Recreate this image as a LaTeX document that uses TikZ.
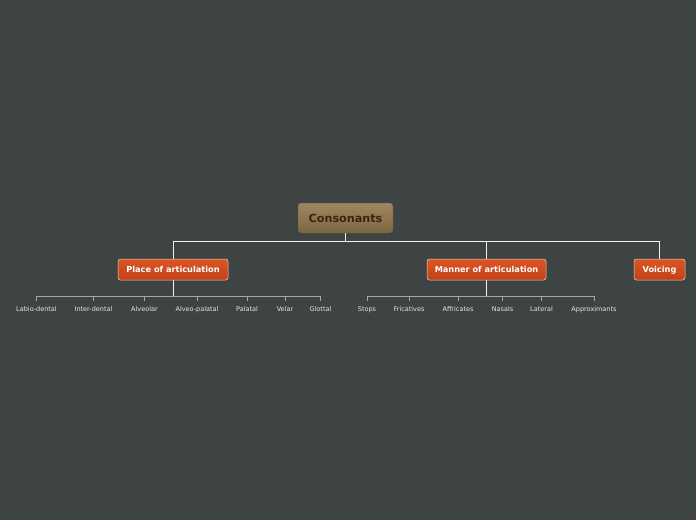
\documentclass[tikz,border=0pt]{standalone}
\usepackage{fontspec}
\setmainfont{DejaVu Sans}
\begin{document}
\begin{tikzpicture}[x=1pt,y=-1pt,
  rootbox/.style={rounded corners=3pt, top color=rootTop, bottom color=rootBot, draw=rootBot!80!black, line width=0.3pt,
    minimum width=95pt, minimum height=30pt, inner sep=0pt, font=\fontsize{11.2}{13}\selectfont\bfseries, text=rootText},
  midbox/.style={rounded corners=2.5pt, top color=midTop, bottom color=midBot, draw=midLine, line width=0.5pt,
    minimum height=21pt, inner sep=0pt, text height=7.6pt, text depth=1pt, font=\fontsize{8.2}{10}\selectfont\bfseries, text=white},
  leaf/.style={inner sep=0pt, text height=5pt, text depth=1.5pt, font=\fontsize{6.5}{7}\selectfont, text=leafText, anchor=north},
  mainline/.style={draw=lineW, line width=0.8pt},
  leafline/.style={draw=lineG, line width=0.8pt}
]
\definecolor{bg}{HTML}{3E4444}
\definecolor{rootTop}{HTML}{A08660}
\definecolor{rootBot}{HTML}{7C6642}
\definecolor{rootText}{HTML}{3A2410}
\definecolor{midTop}{HTML}{DC5524}
\definecolor{midBot}{HTML}{C2411A}
\definecolor{midLine}{HTML}{E8CFC0}
\definecolor{leafText}{HTML}{E6E6E6}
\definecolor{lineW}{HTML}{F2F2F2}
\definecolor{lineG}{HTML}{A4A8A8}
\fill[bg] (0,0) rectangle (696,520);
\useasboundingbox (0,0) rectangle (696,520);

\node[rootbox] (root) at (345.5,218) {Consonants};
\node[midbox, minimum width=110pt] (place) at (173,269.5) {Place of articulation};
\node[midbox, minimum width=119pt] (manner) at (486.5,269.5) {Manner of articulation};
\node[midbox, minimum width=51pt] (voicing) at (659.5,269.5) {Voicing};

\coordinate (rj) at (345.5,241);
\draw[mainline] (root.south) -- (rj);
\draw[mainline] (rj) -| (place.north);
\draw[mainline] (rj) -| (manner.north);
\draw[mainline] (rj) -| (voicing.north);

% Place leaves
\coordinate (pj) at (173,296);
\foreach \n/\x/\t in {l1/36.5/Labio-dental, l2/93.5/Inter-dental, l3/144.5/Alveolar, l4/197/Alveo-palatal, l5/247/Palatal, l6/285/Velar, l7/320.5/Glottal}{
  \node[leaf] (\n) at (\x,306.5) {\t};
  \draw[leafline] (pj) -| ([yshift=5.5pt]\n.north);
}
\draw[mainline] (place.south) -- (pj);

% Manner leaves
\coordinate (mj) at (486.5,296);
\foreach \n/\x/\t in {m1/367/Stops, m2/409/Fricatives, m3/458/Affricates, m4/502.5/Nasals, m5/541.5/Lateral, m6/594/Approximants}{
  \node[leaf] (\n) at (\x,306.5) {\t};
  \draw[leafline] (mj) -| ([yshift=5.5pt]\n.north);
}
\draw[mainline] (manner.south) -- (mj);
\end{tikzpicture}
\end{document}
